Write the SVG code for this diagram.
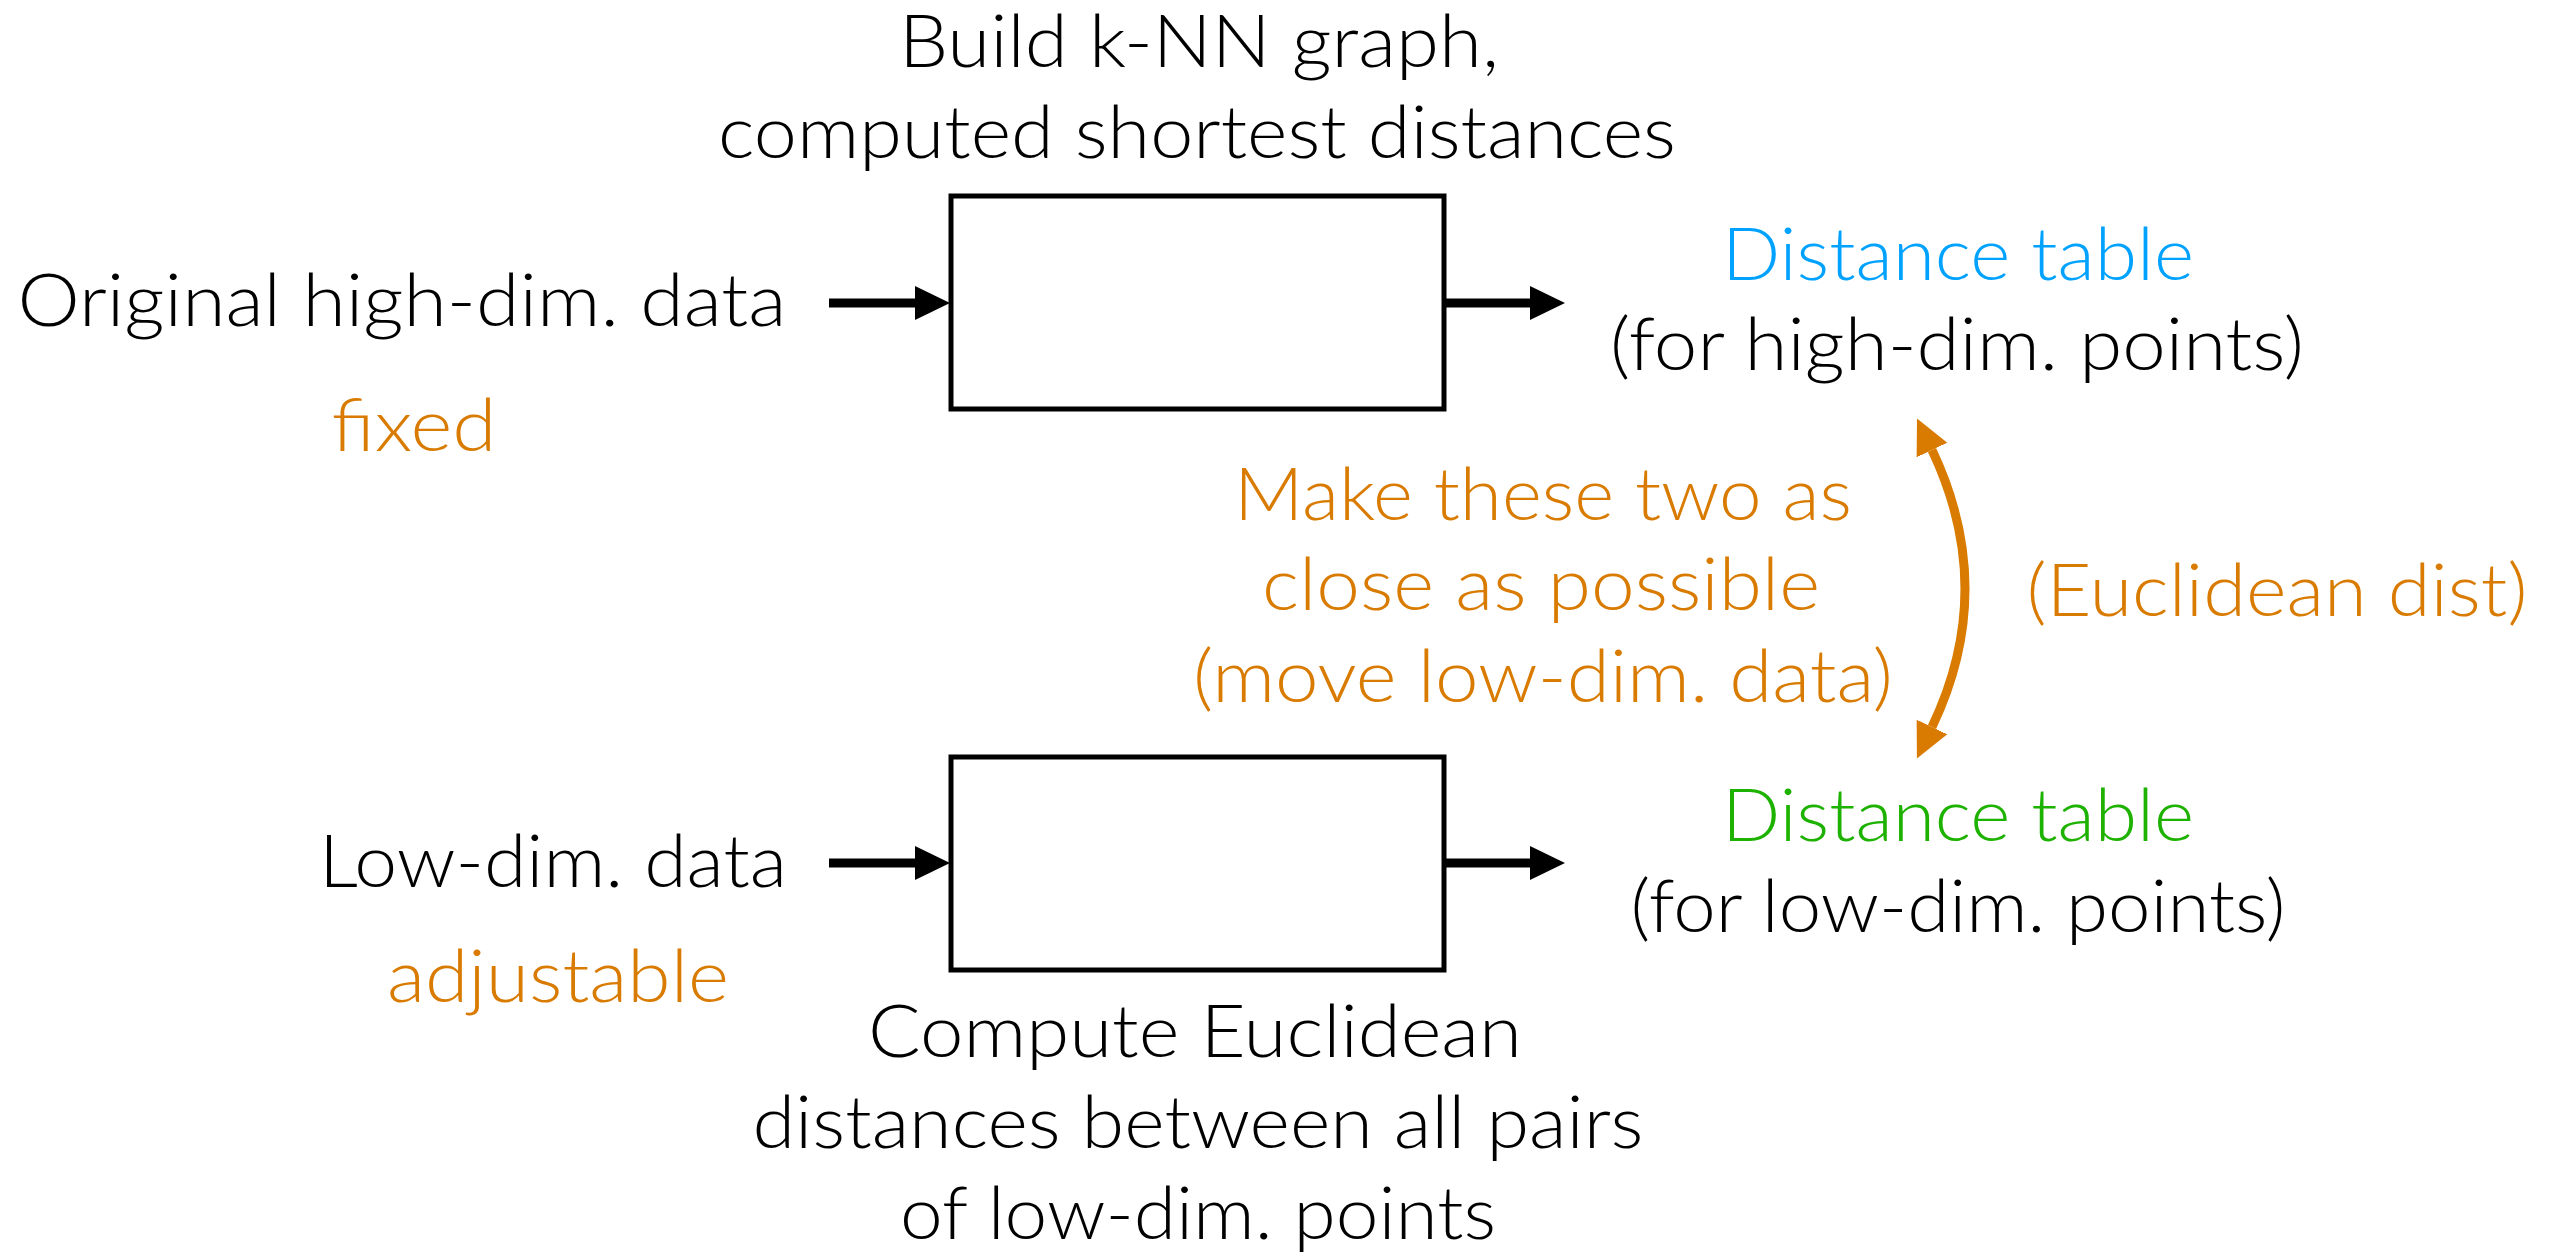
<svg xmlns="http://www.w3.org/2000/svg" width="2556" height="1254" viewBox="0 0 2556 1254">
  <style>
    text { font-family: Lato, "Open Sans", "Liberation Sans", sans-serif; font-weight: 300; font-size: 73px; text-anchor: middle; }
    .k { fill: #000000; }
    .o { fill: #D97B00; }
    .b { fill: #00A2FF; }
    .g { fill: #1DB100; }
    .box { fill: #FFFFFF; stroke: #000000; stroke-width: 5; }
    .flow { fill: none; stroke: #000000; stroke-width: 9; marker-end: url(#headK); }
    .match { fill: none; stroke: #D97B00; stroke-width: 9; marker-start: url(#headO); marker-end: url(#headO); }
  </style>
  <defs>
    <marker id="headK" viewBox="0 -18 36 36" refX="0" refY="0" markerWidth="36" markerHeight="36" markerUnits="userSpaceOnUse" orient="auto-start-reverse">
      <path d="M0,-17 L35,0 L0,17 Z" fill="#000000"/>
    </marker>
    <marker id="headO" viewBox="0 -18 36 36" refX="0" refY="0" markerWidth="36" markerHeight="36" markerUnits="userSpaceOnUse" orient="auto-start-reverse">
      <path d="M0,-17 L35,0 L0,17 Z" fill="#D97B00"/>
    </marker>
  </defs>

  <rect width="2556" height="1254" fill="#FFFFFF"/>

  <!-- connectors -->
  <g id="connectors">
    <line class="flow" x1="829" y1="303" x2="915" y2="303"/>
    <line class="flow" x1="1444" y1="303" x2="1530" y2="303"/>
    <line class="flow" x1="829" y1="863" x2="915" y2="863"/>
    <line class="flow" x1="1444" y1="863" x2="1530" y2="863"/>
    <path class="match" d="M1932,450 Q1998,589 1932,727"/>
  </g>

  <!-- upper pipeline: k-NN graph on the high-dimensional data -->
  <g id="node-highdim-input">
    <text class="k" x="402" y="326" textLength="769" lengthAdjust="spacingAndGlyphs">Original high-dim. data</text>
    <text class="o" x="414" y="451" textLength="165" lengthAdjust="spacingAndGlyphs">fixed</text>
  </g>
  <g id="node-knn">
    <text class="k" x="1199" y="67" textLength="600" lengthAdjust="spacingAndGlyphs">Build k-NN graph,</text>
    <text class="k" x="1197" y="158" textLength="958" lengthAdjust="spacingAndGlyphs">computed shortest distances</text>
    <rect class="box" x="951" y="196" width="493" height="213"/>
  </g>
  <g id="node-highdim-table">
    <text class="b" x="1958" y="280" textLength="472" lengthAdjust="spacingAndGlyphs">Distance table</text>
    <text class="k" x="1957" y="370" textLength="694" lengthAdjust="spacingAndGlyphs">(for high-dim. points)</text>
  </g>

  <!-- objective between the two tables -->
  <g id="node-objective">
    <text class="o" x="1543" y="520" textLength="618" lengthAdjust="spacingAndGlyphs">Make these two as</text>
    <text class="o" x="1541" y="610" textLength="558" lengthAdjust="spacingAndGlyphs">close as possible</text>
    <text class="o" x="1543" y="702" textLength="700" lengthAdjust="spacingAndGlyphs">(move low-dim. data)</text>
  </g>
  <g id="node-metric">
    <text class="o" x="2277" y="616" textLength="501" lengthAdjust="spacingAndGlyphs">(Euclidean dist)</text>
  </g>

  <!-- lower pipeline: Euclidean distances on the low-dimensional data -->
  <g id="node-lowdim-input">
    <text class="k" x="553" y="887" textLength="468" lengthAdjust="spacingAndGlyphs">Low-dim. data</text>
    <text class="o" x="558" y="1002" textLength="342" lengthAdjust="spacingAndGlyphs">adjustable</text>
  </g>
  <g id="node-euclid">
    <rect class="box" x="951" y="757" width="493" height="213"/>
    <text class="k" x="1195" y="1057" textLength="654" lengthAdjust="spacingAndGlyphs">Compute Euclidean</text>
    <text class="k" x="1198" y="1148" textLength="891" lengthAdjust="spacingAndGlyphs">distances between all pairs</text>
    <text class="k" x="1198" y="1239" textLength="596" lengthAdjust="spacingAndGlyphs">of low-dim. points</text>
  </g>
  <g id="node-lowdim-table">
    <text class="g" x="1958" y="841" textLength="472" lengthAdjust="spacingAndGlyphs">Distance table</text>
    <text class="k" x="1958" y="932" textLength="655" lengthAdjust="spacingAndGlyphs">(for low-dim. points)</text>
  </g>
</svg>
